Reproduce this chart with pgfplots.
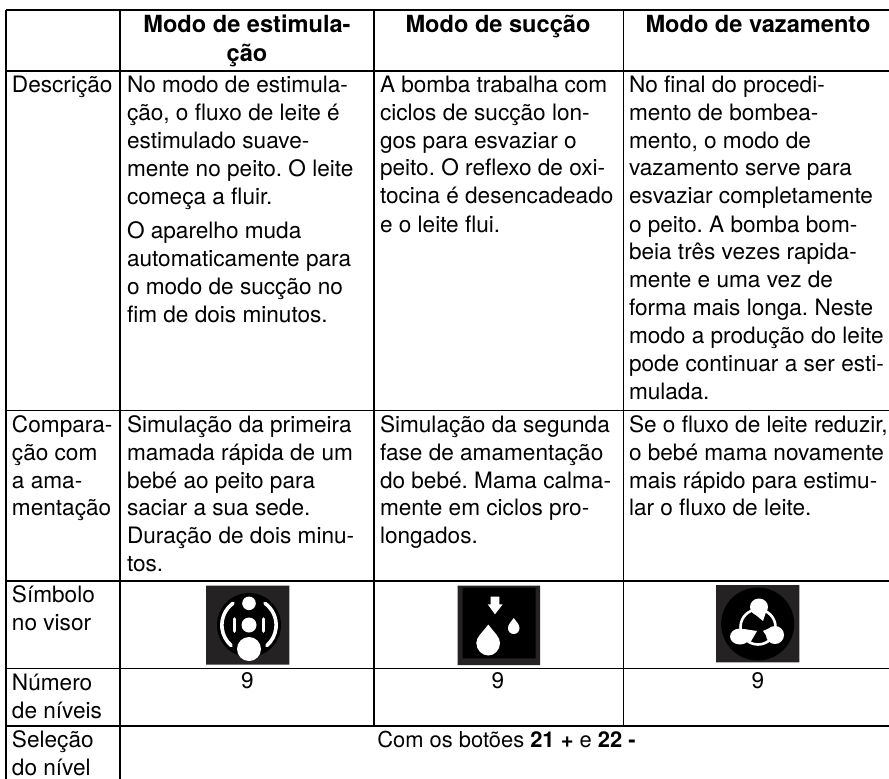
\documentclass[border=0pt]{standalone}
\usepackage{fontspec}
\setmainfont{TeX Gyre Heros}
\usepackage{pgfplots}
\pgfplotsset{compat=1.18}
\frenchspacing
\newcommand\T[3]{\node[anchor=base west,inner sep=0pt,outer sep=0pt] at (axis cs:#1,#2) {\fontsize{22.6}{26}\selectfont\frenchspacing #3};}
\newcommand\C[3]{\node[anchor=base,inner sep=0pt,outer sep=0pt] at (axis cs:#1,#2) {\fontsize{22.6}{26}\selectfont\frenchspacing #3};}
\newcommand\B[3]{\node[anchor=base,inner sep=0pt,outer sep=0pt] at (axis cs:#1,#2) {\fontsize{23.6}{26}\selectfont\bfseries #3};}
\definecolor{ico}{HTML}{242223}
\begin{document}
\begin{tikzpicture}[x=1pt,y=1pt]
\path[use as bounding box] (0,0) rectangle (889,779);
\begin{axis}[at={(0,0)},anchor=south west,scale only axis,width=889pt,height=779pt,
 xmin=0,xmax=889,ymin=0,ymax=779,y dir=reverse,hide axis,clip=false]
% icon 1
\addplot[draw=none,fill=ico,forget plot] coordinates {(206,585.7)(289.3,585.7)(289.3,664.5)(206,664.5)(206,585.7)};
\fill[black] (axis cs:249,625) circle[radius=32pt];
\fill[white] (axis cs:249,603.3) circle[radius=6.8pt];
\fill[white] (axis cs:249,625) circle[radius=7.5pt];
\fill[white] (axis cs:249,649) circle[radius=12pt];
\draw[white,line width=3.6pt,line cap=round] (axis cs:233,603.3) arc[start angle=126,end angle=229,radius=27pt];
\draw[white,line width=3.6pt,line cap=round] (axis cs:265,603.3) arc[start angle=54,end angle=-49,radius=27pt];
\draw[white,line width=3.6pt,line cap=round] (axis cs:234.5,619) -- (axis cs:234.5,631);
\draw[white,line width=3.6pt,line cap=round] (axis cs:263.5,619) -- (axis cs:263.5,631);
% icon 2
\addplot[draw=none,fill=ico,forget plot] coordinates {(457.7,585.7)(540,585.7)(540,665)(457.7,665)(457.7,585.7)};
\addplot[draw=none,fill=black,forget plot] coordinates {(462.7,587.7)(535.7,587.7)(535.7,658.3)(462.7,658.3)(462.7,587.7)};
\fill[white] (axis cs:490.7,596.7)--(axis cs:499.3,596.7)--(axis cs:499.3,604.3)--(axis cs:502.7,604.3)--(axis cs:495,614.3)--(axis cs:487.7,604.3)--(axis cs:490.7,604.3)--cycle;
\fill[white] (axis cs:488.3,624.5) .. controls (axis cs:482,633) and (axis cs:476.3,637) .. (axis cs:476.3,643) .. controls (axis cs:476.3,650) and (axis cs:482,655.5) .. (axis cs:488.3,655.5) .. controls (axis cs:494.5,655.5) and (axis cs:500,650) .. (axis cs:500,643) .. controls (axis cs:500,637) and (axis cs:494.5,633) .. cycle;
\fill[white] (axis cs:513.7,618) .. controls (axis cs:511,622) and (axis cs:508,624.5) .. (axis cs:508,628) .. controls (axis cs:508,631.5) and (axis cs:510.5,634) .. (axis cs:513.7,634) .. controls (axis cs:517,634) and (axis cs:519.5,631.5) .. (axis cs:519.5,628) .. controls (axis cs:519.5,624.5) and (axis cs:516.5,622) .. cycle;
% icon 3
\addplot[draw=none,fill=ico,forget plot] coordinates {(716,585)(799.3,585)(799.3,662.3)(716,662.3)(716,585)};
\fill[black] (axis cs:757.7,624) circle[radius=36.5pt];
\draw[white,line width=2.6pt] (axis cs:758,627) circle[radius=17.5pt];
\fill[white] (axis cs:759,607) ellipse[x radius=9pt,y radius=8.5pt];
\fill[white] (axis cs:751,611)--(axis cs:767,609)--(axis cs:763,621)--(axis cs:757,616)--cycle;
\fill[white] (axis cs:740,636.5) ellipse[x radius=10pt,y radius=8pt];
\fill[white] (axis cs:744,629)--(axis cs:757,631)--(axis cs:750,643)--cycle;
\fill[white] (axis cs:775,635) ellipse[x radius=9pt,y radius=9pt];
\fill[white] (axis cs:763,631)--(axis cs:772,627)--(axis cs:771,643)--cycle;
% grid
\addplot[black,line width=1.4pt,forget plot] coordinates {(6,10)(889,10)};
\addplot[black,line width=1.4pt,forget plot] coordinates {(6,71)(889,71)};
\addplot[black,line width=1.4pt,forget plot] coordinates {(6,410.5)(889,410.5)};
\addplot[black,line width=1.4pt,forget plot] coordinates {(6,581)(889,581)};
\addplot[black,line width=1.4pt,forget plot] coordinates {(6,668.5)(889,668.5)};
\addplot[black,line width=1.4pt,forget plot] coordinates {(6,726)(889,726)};
\addplot[black,line width=1.4pt,forget plot] coordinates {(6,10)(6,779)};
\addplot[black,line width=1.4pt,forget plot] coordinates {(120,10)(120,779)};
\addplot[black,line width=1.4pt,forget plot] coordinates {(374,10)(374,726)};
\addplot[black,line width=1.4pt,forget plot] coordinates {(623.5,10)(623.5,726)};
% header
\B{247}{32}{Modo de estimula-}
\B{247}{61}{ção}
\B{498}{32}{Modo de sucção}
\B{758}{32}{Modo de vazamento}
% first column
\T{12}{92}{Descrição}
\T{12}{432}{Compara-}
\T{12}{460}{ção com}
\T{12}{488}{a ama-}
\T{12}{515}{mentação}
\T{12}{602}{Símbolo}
\T{12}{630}{no visor}
\T{12}{690}{Número}
\T{12}{718}{de níveis}
\T{12}{747}{Seleção}
\T{12}{775}{do nível}
% col 2
\T{127}{92}{No modo de estimula-}
\T{127}{120}{ção, o fluxo de leite é}
\T{127}{148}{estimulado suave-}
\T{127}{176}{mente no peito. O leite}
\T{127}{204}{começa a fluir.}
\T{127}{238}{O aparelho muda}
\T{127}{266}{automaticamente para}
\T{127}{294}{o modo de sucção no}
\T{127}{322}{fim de dois minutos.}
\T{127}{432}{Simulação da primeira}
\T{127}{460}{mamada rápida de um}
\T{127}{488}{bebé ao peito para}
\T{127}{515}{saciar a sua sede.}
\T{127}{543}{Duração de dois minu-}
\T{127}{571}{tos.}
% col 3
\T{380}{92}{A bomba trabalha com}
\T{380}{120}{ciclos de sucção lon-}
\T{380}{148}{gos para esvaziar o}
\T{380}{175}{peito. O reflexo de oxi-}
\T{380}{203}{tocina é desencadeado}
\T{380}{232}{e o leite flui.}
\T{380}{432}{Simulação da segunda}
\T{380}{460}{fase de amamentação}
\T{380}{488}{do bebé. Mama calma-}
\T{380}{515}{mente em ciclos pro-}
\T{380}{543}{longados.}
% col 4
\T{629}{92}{No final do procedi-}
\T{629}{120}{mento de bombea-}
\T{629}{148}{mento, o modo de}
\T{629}{175}{vazamento serve para}
\T{629}{203}{esvaziar completamente}
\T{629}{232}{o peito. A bomba bom-}
\T{629}{259}{beia três vezes rapida-}
\T{629}{287}{mente e uma vez de}
\T{629}{315}{forma mais longa. Neste}
\T{629}{343}{modo a produção do leite}
\T{629}{371}{pode continuar a ser esti-}
\T{629}{399}{mulada.}
\T{629}{432}{Se o fluxo de leite reduzir,}
\T{629}{460}{o bebé mama novamente}
\T{629}{488}{mais rápido para estimu-}
\T{629}{515}{lar o fluxo de leite.}
% levels
\C{247.5}{688}{9}
\C{498}{688}{9}
\C{758}{688}{9}
\node[anchor=base,inner sep=0pt,outer sep=0pt] at (axis cs:506.5,747) {\fontsize{21.9}{26}\selectfont\frenchspacing Com os botões \textbf{21 +} e \textbf{22 -}};
\end{axis}
\end{tikzpicture}
\end{document}
